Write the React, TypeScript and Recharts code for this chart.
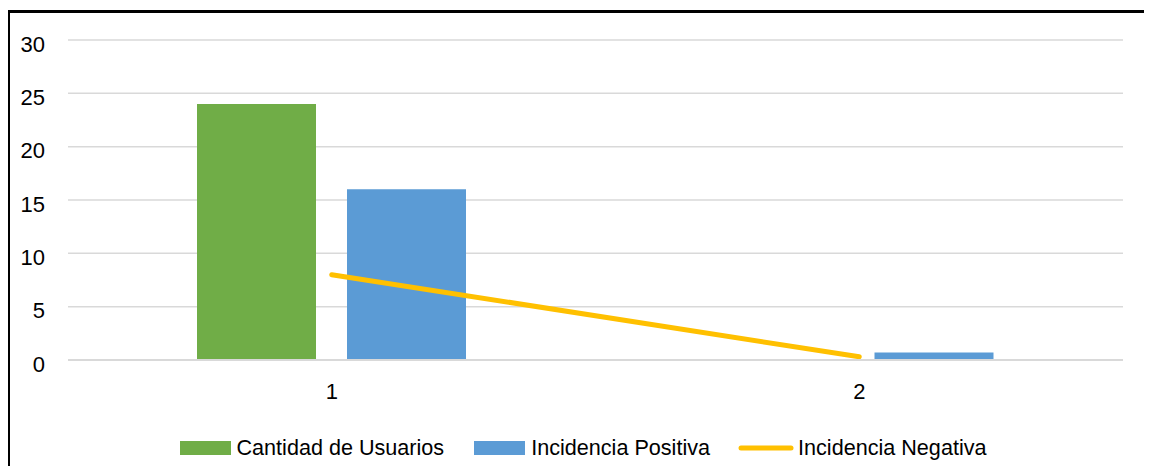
import React from "react";
import { ComposedChart, Bar, Line, XAxis, YAxis, CartesianGrid, Legend } from "recharts";

// Category labels on the x axis
const categories = ["1", "2"];
// Series values
const usuarios = [24, 0];
const positiva = [16, 0.7];
const negativa = [8, 0.3];
const yTicks = [0, 5, 10, 15, 20, 25, 30];

const seriesNames = ["Cantidad de Usuarios", "Incidencia Positiva", "Incidencia Negativa"];

const GREEN = "#70AD47";
const BLUE = "#5B9BD5";
const YELLOW = "#FFC000";
const GRID = "#D9D9D9";
const font = "'Liberation Sans', Arial, sans-serif";

const chartData = categories.map((cat, i) => ({
  cat,
  usuarios: usuarios[i],
  positiva: positiva[i],
  negativa: negativa[i],
}));

const LegendContent = () => (
  <div
    style={{
      height: 24,
      display: "flex",
      justifyContent: "center",
      alignItems: "center",
      fontFamily: font,
      fontSize: 21.6,
      color: "#000",
    }}
  >
    <span style={{ display: "inline-block", width: 51, height: 14, background: GREEN, marginRight: 6 }} />
    <span style={{ marginRight: 30 }}>{seriesNames[0]}</span>
    <span style={{ display: "inline-block", width: 51, height: 14, background: BLUE, marginRight: 6 }} />
    <span style={{ marginRight: 28 }}>{seriesNames[1]}</span>
    <svg width={56} height={14} style={{ marginRight: 4 }}>
      <line x1={3} y1={7} x2={53} y2={7} stroke={YELLOW} strokeWidth={5} strokeLinecap="round" />
    </svg>
    <span>{seriesNames[2]}</span>
  </div>
);

const App: React.FC = () => {
  return (
    <div style={{ position: "relative", width: 1152, height: 474, margin: -8, overflow: "hidden", background: "#fff" }}>
      <div
        style={{
          position: "absolute",
          left: 7,
          top: 10,
          width: 1145,
          height: 480,
          boxSizing: "border-box",
          borderLeft: "3px solid #000",
          borderTop: "3px solid #000",
          borderRight: "1px solid #999",
        }}
      />
      <div style={{ position: "absolute", left: 0, top: 0 }}>
        <ComposedChart
          width={1152}
          height={474}
          data={chartData}
          margin={{ top: 40, right: 29, left: 8, bottom: 14 }}
          barSize={119}
          barGap={31}
        >
          <CartesianGrid vertical={false} stroke={GRID} strokeWidth={1.5} />
          <XAxis
            dataKey="cat"
            height={76}
            axisLine={{ stroke: GRID, strokeWidth: 2 }}
            tickLine={false}
            tickMargin={17}
            tick={{ fill: "#000", fontSize: 22, fontFamily: font }}
          />
          <YAxis
            width={60}
            domain={[0, 30]}
            ticks={yTicks}
            axisLine={false}
            tickLine={false}
            tickMargin={17}
            tick={{ fill: "#000", fontSize: 22, fontFamily: font, dy: 4 }}
          />
          <Legend
            verticalAlign="bottom"
            content={<LegendContent />}
            wrapperStyle={{ left: 10, width: 1146 }}
          />
          <Bar dataKey="usuarios" name={seriesNames[0]} fill={GREEN} isAnimationActive={false} />
          <Bar dataKey="positiva" name={seriesNames[1]} fill={BLUE} isAnimationActive={false} />
          <Line
            dataKey="negativa"
            name={seriesNames[2]}
            stroke={YELLOW}
            strokeWidth={5}
            strokeLinecap="round"
            dot={false}
            activeDot={false}
            type="linear"
            isAnimationActive={false}
          />
        </ComposedChart>
      </div>
    </div>
  );
};

export default App;
